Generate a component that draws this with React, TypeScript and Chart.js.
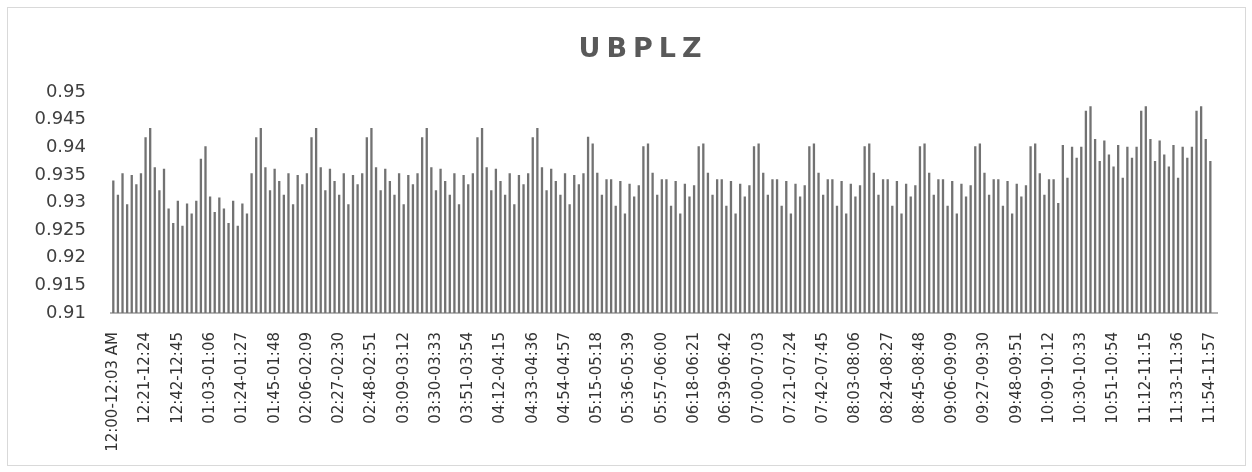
import React, { useEffect, useRef } from "react";
import { Chart, registerables } from "chart.js";

Chart.register(...registerables);

const TITLE = "UBPLZ";

// Categories: 3-minute intervals over 12 hours (20 per hour)
const cats12 = ["12:00-12:03 AM","12:03-12:06","12:06-12:09","12:09-12:12","12:12-12:15","12:15-12:18","12:18-12:21","12:21-12:24","12:24-12:27","12:27-12:30","12:30-12:33","12:33-12:36","12:36-12:39","12:39-12:42","12:42-12:45","12:45-12:48","12:48-12:51","12:51-12:54","12:54-12:57","12:57-01:00"];
const cats01 = ["01:00-01:03","01:03-01:06","01:06-01:09","01:09-01:12","01:12-01:15","01:15-01:18","01:18-01:21","01:21-01:24","01:24-01:27","01:27-01:30","01:30-01:33","01:33-01:36","01:36-01:39","01:39-01:42","01:42-01:45","01:45-01:48","01:48-01:51","01:51-01:54","01:54-01:57","01:57-02:00"];
const cats02 = ["02:00-02:03","02:03-02:06","02:06-02:09","02:09-02:12","02:12-02:15","02:15-02:18","02:18-02:21","02:21-02:24","02:24-02:27","02:27-02:30","02:30-02:33","02:33-02:36","02:36-02:39","02:39-02:42","02:42-02:45","02:45-02:48","02:48-02:51","02:51-02:54","02:54-02:57","02:57-03:00"];
const cats03 = ["03:00-03:03","03:03-03:06","03:06-03:09","03:09-03:12","03:12-03:15","03:15-03:18","03:18-03:21","03:21-03:24","03:24-03:27","03:27-03:30","03:30-03:33","03:33-03:36","03:36-03:39","03:39-03:42","03:42-03:45","03:45-03:48","03:48-03:51","03:51-03:54","03:54-03:57","03:57-04:00"];
const cats04 = ["04:00-04:03","04:03-04:06","04:06-04:09","04:09-04:12","04:12-04:15","04:15-04:18","04:18-04:21","04:21-04:24","04:24-04:27","04:27-04:30","04:30-04:33","04:33-04:36","04:36-04:39","04:39-04:42","04:42-04:45","04:45-04:48","04:48-04:51","04:51-04:54","04:54-04:57","04:57-05:00"];
const cats05 = ["05:00-05:03","05:03-05:06","05:06-05:09","05:09-05:12","05:12-05:15","05:15-05:18","05:18-05:21","05:21-05:24","05:24-05:27","05:27-05:30","05:30-05:33","05:33-05:36","05:36-05:39","05:39-05:42","05:42-05:45","05:45-05:48","05:48-05:51","05:51-05:54","05:54-05:57","05:57-06:00"];
const cats06 = ["06:00-06:03","06:03-06:06","06:06-06:09","06:09-06:12","06:12-06:15","06:15-06:18","06:18-06:21","06:21-06:24","06:24-06:27","06:27-06:30","06:30-06:33","06:33-06:36","06:36-06:39","06:39-06:42","06:42-06:45","06:45-06:48","06:48-06:51","06:51-06:54","06:54-06:57","06:57-07:00"];
const cats07 = ["07:00-07:03","07:03-07:06","07:06-07:09","07:09-07:12","07:12-07:15","07:15-07:18","07:18-07:21","07:21-07:24","07:24-07:27","07:27-07:30","07:30-07:33","07:33-07:36","07:36-07:39","07:39-07:42","07:42-07:45","07:45-07:48","07:48-07:51","07:51-07:54","07:54-07:57","07:57-08:00"];
const cats08 = ["08:00-08:03","08:03-08:06","08:06-08:09","08:09-08:12","08:12-08:15","08:15-08:18","08:18-08:21","08:21-08:24","08:24-08:27","08:27-08:30","08:30-08:33","08:33-08:36","08:36-08:39","08:39-08:42","08:42-08:45","08:45-08:48","08:48-08:51","08:51-08:54","08:54-08:57","08:57-09:00"];
const cats09 = ["09:00-09:03","09:03-09:06","09:06-09:09","09:09-09:12","09:12-09:15","09:15-09:18","09:18-09:21","09:21-09:24","09:24-09:27","09:27-09:30","09:30-09:33","09:33-09:36","09:36-09:39","09:39-09:42","09:42-09:45","09:45-09:48","09:48-09:51","09:51-09:54","09:54-09:57","09:57-10:00"];
const cats10 = ["10:00-10:03","10:03-10:06","10:06-10:09","10:09-10:12","10:12-10:15","10:15-10:18","10:18-10:21","10:21-10:24","10:24-10:27","10:27-10:30","10:30-10:33","10:33-10:36","10:36-10:39","10:39-10:42","10:42-10:45","10:45-10:48","10:48-10:51","10:51-10:54","10:54-10:57","10:57-11:00"];
const cats11 = ["11:00-11:03","11:03-11:06","11:06-11:09","11:09-11:12","11:12-11:15","11:15-11:18","11:18-11:21","11:21-11:24","11:24-11:27","11:27-11:30","11:30-11:33","11:33-11:36","11:36-11:39","11:39-11:42","11:42-11:45","11:45-11:48","11:48-11:51","11:51-11:54","11:54-11:57","11:57-12:00"];

// Values, one array per hour
const vals12 = [0.934,0.9314,0.9353,0.9297,0.935,0.9333,0.9353,0.9418,0.9435,0.9364,0.9322,0.9361,0.9289,0.9263,0.9303,0.9258,0.9298,0.928,0.9303,0.9379];
const vals01 = [0.9402,0.9311,0.9283,0.9309,0.9289,0.9263,0.9303,0.9258,0.9298,0.928,0.9353,0.9418,0.9435,0.9364,0.9322,0.9361,0.9339,0.9314,0.9353,0.9297];
const vals02 = [0.935,0.9333,0.9353,0.9418,0.9435,0.9364,0.9322,0.9361,0.9339,0.9314,0.9353,0.9297,0.935,0.9333,0.9353,0.9418,0.9435,0.9364,0.9322,0.9361];
const vals03 = [0.9339,0.9314,0.9353,0.9297,0.935,0.9333,0.9353,0.9418,0.9435,0.9364,0.9322,0.9361,0.9339,0.9314,0.9353,0.9297,0.935,0.9333,0.9353,0.9418];
const vals04 = [0.9435,0.9364,0.9322,0.9361,0.9339,0.9314,0.9353,0.9297,0.935,0.9333,0.9353,0.9418,0.9435,0.9364,0.9322,0.9361,0.9339,0.9314,0.9353,0.9297];
const vals05 = [0.935,0.9333,0.9353,0.9419,0.9407,0.9354,0.9314,0.9342,0.9342,0.9294,0.9339,0.928,0.9334,0.9311,0.9331,0.9402,0.9407,0.9354,0.9314,0.9342];
const vals06 = [0.9342,0.9294,0.9339,0.928,0.9334,0.9311,0.9331,0.9402,0.9407,0.9354,0.9314,0.9342,0.9342,0.9294,0.9339,0.928,0.9334,0.9311,0.9331,0.9402];
const vals07 = [0.9407,0.9354,0.9314,0.9342,0.9342,0.9294,0.9339,0.928,0.9334,0.9311,0.9331,0.9402,0.9407,0.9354,0.9314,0.9342,0.9342,0.9294,0.9339,0.928];
const vals08 = [0.9334,0.9311,0.9331,0.9402,0.9407,0.9354,0.9314,0.9342,0.9342,0.9294,0.9339,0.928,0.9334,0.9311,0.9331,0.9402,0.9407,0.9354,0.9314,0.9342];
const vals09 = [0.9342,0.9294,0.9339,0.928,0.9334,0.9311,0.9331,0.9402,0.9407,0.9354,0.9314,0.9342,0.9342,0.9294,0.9339,0.928,0.9334,0.9311,0.9331,0.9402];
const vals10 = [0.9407,0.9353,0.9314,0.9342,0.9342,0.9299,0.9404,0.9345,0.9401,0.9381,0.9401,0.9466,0.9474,0.9415,0.9375,0.9412,0.9387,0.9365,0.9404,0.9345];
const vals11 = [0.9401,0.9381,0.9401,0.9466,0.9474,0.9415,0.9375,0.9412,0.9387,0.9365,0.9404,0.9345,0.9401,0.9381,0.9401,0.9466,0.9474,0.9415,0.9375,null];

const categories = [...cats12, ...cats01, ...cats02, ...cats03, ...cats04, ...cats05, ...cats06, ...cats07, ...cats08, ...cats09, ...cats10, ...cats11];
const values = [...vals12, ...vals01, ...vals02, ...vals03, ...vals04, ...vals05, ...vals06, ...vals07, ...vals08, ...vals09, ...vals10, ...vals11];

const yTickLabels = ["0.91", "0.915", "0.92", "0.925", "0.93", "0.935", "0.94", "0.945", "0.95"];
const LABEL_EVERY = 7;

const FONT = "'DejaVu Sans', Verdana, sans-serif";

export default function App() {
  const ref = useRef<HTMLCanvasElement>(null);

  useEffect(() => {
    if (!ref.current) return;
    const chart = new Chart(ref.current, {
      type: "bar",
      data: {
        labels: categories,
        datasets: [
          {
            label: TITLE,
            data: values,
            backgroundColor: "#727272",
            borderWidth: 0,
            barPercentage: 0.5,
            categoryPercentage: 1,
          },
        ],
      },
      options: {
        responsive: false,
        animation: false,
        layout: { padding: { left: 0, right: 22, top: 92, bottom: 0 } },
        plugins: {
          legend: { display: false },
          title: { display: false },
          tooltip: { enabled: false },
        },
        scales: {
          x: {
            grid: { display: false, drawTicks: false },
            border: { display: true, color: "#b3b3b3", width: 2 },
            ticks: {
              autoSkip: false,
              maxRotation: 90,
              minRotation: 90,
              padding: 19,
              color: "#333333",
              font: { family: FONT, size: 15 },
              callback: (_v: any, i: number) => (i % LABEL_EVERY === 0 ? categories[i] : ""),
            },
            afterFit: (s: any) => {
              s.height = 159;
            },
          },
          y: {
            min: 0.91,
            max: 0.95,
            grid: { display: false, drawTicks: false },
            border: { display: false },
            ticks: {
              stepSize: 0.005,
              padding: 25,
              color: "#404040",
              font: { family: FONT, size: 18 },
              callback: (_v: any, i: number) => yTickLabels[i],
            },
            afterFit: (s: any) => {
              s.width = 111;
            },
          },
        },
      },
    });
    return () => chart.destroy();
  }, []);

  return (
    <div style={{ position: "fixed", left: 0, top: 0, width: 1252, height: 472, background: "#fff" }}>
      <div
        style={{
          position: "absolute",
          left: 7,
          top: 7,
          width: 1237,
          height: 457,
          border: "1px solid #d9d9d9",
        }}
      />
      <canvas ref={ref} width={1252} height={472} style={{ position: "absolute", left: 0, top: 0 }} />
      <div
        style={{
          position: "absolute",
          left: 540,
          top: 34,
          width: 200,
          textAlign: "center",
          fontFamily: FONT,
          fontWeight: "bold",
          fontSize: 27,
          lineHeight: "27px",
          letterSpacing: "6px",
          color: "#595959",
          paddingLeft: 6,
          boxSizing: "border-box",
        }}
      >
        {TITLE}
      </div>
    </div>
  );
}
